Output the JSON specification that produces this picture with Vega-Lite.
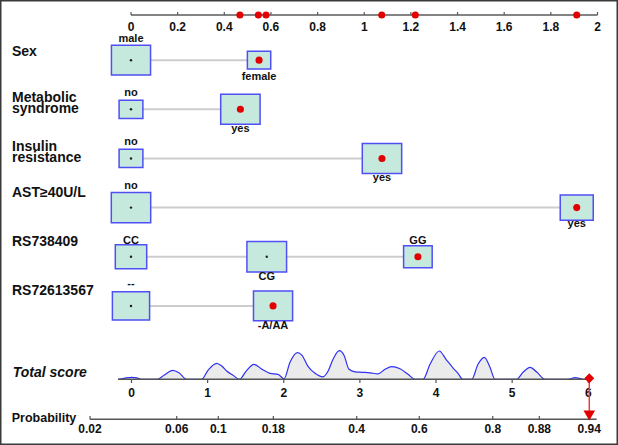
{
  "$schema": "https://vega.github.io/schema/vega-lite/v6.json",
  "width": 618,
  "height": 445,
  "autosize": {"type": "fit", "contains": "padding"},
  "padding": 0,
  "background": "white",
  "config": {
    "view": {"stroke": "#3a3a3a", "strokeWidth": 3},
    "text": {"font": "Liberation Sans", "fontWeight": "bold", "color": "#111111"}
  },
  "datasets": {
    "topticks": [
      {"pts": 0, "lab": "0"}, {"pts": 0.2, "lab": "0.2"}, {"pts": 0.4, "lab": "0.4"},
      {"pts": 0.6, "lab": "0.6"}, {"pts": 0.8, "lab": "0.8"}, {"pts": 1, "lab": "1"},
      {"pts": 1.2, "lab": "1.2"}, {"pts": 1.4, "lab": "1.4"}, {"pts": 1.6, "lab": "1.6"},
      {"pts": 1.8, "lab": "1.8"}, {"pts": 2, "lab": "2"}
    ],
    "topdots": [
      {"pts": 0.467}, {"pts": 0.546}, {"pts": 0.579}, {"pts": 1.075}, {"pts": 1.219}, {"pts": 1.911}
    ],
    "boxes": [
      {"row": 1, "level": "male", "pts": 0, "freq": 0.73, "sel": false, "pos": "above"},
      {"row": 1, "level": "female", "pts": 0.549, "freq": 0.26, "sel": true, "pos": "below"},
      {"row": 2, "level": "no", "pts": 0, "freq": 0.27, "sel": false, "pos": "above"},
      {"row": 2, "level": "yes", "pts": 0.469, "freq": 0.74, "sel": true, "pos": "below"},
      {"row": 3, "level": "no", "pts": 0, "freq": 0.27, "sel": false, "pos": "above"},
      {"row": 3, "level": "yes", "pts": 1.076, "freq": 0.74, "sel": true, "pos": "below"},
      {"row": 4, "level": "no", "pts": 0, "freq": 0.74, "sel": false, "pos": "above"},
      {"row": 4, "level": "yes", "pts": 1.911, "freq": 0.52, "sel": true, "pos": "below"},
      {"row": 5, "level": "CC", "pts": 0, "freq": 0.47, "sel": false, "pos": "above"},
      {"row": 5, "level": "CG", "pts": 0.582, "freq": 0.75, "sel": false, "pos": "below"},
      {"row": 5, "level": "GG", "pts": 1.23, "freq": 0.39, "sel": true, "pos": "above"},
      {"row": 6, "level": "--", "pts": 0, "freq": 0.66, "sel": false, "pos": "above"},
      {"row": 6, "level": "-A/AA", "pts": 0.609, "freq": 0.73, "sel": true, "pos": "below"}
    ],
    "rownames": [
      {"row": 1, "name": "Sex"},
      {"row": 2, "name": "Metabolic\nsyndrome"},
      {"row": 3, "name": "Insulin\nresistance"},
      {"row": 4, "name": "AST≥40U/L"},
      {"row": 5, "name": "RS738409"},
      {"row": 6, "name": "RS72613567"}
    ],
    "scoreticks": [
      {"score": 0}, {"score": 1}, {"score": 2}, {"score": 3}, {"score": 4}, {"score": 5}, {"score": 6}
    ],
    "prob": [
      {"p": "0.02", "score": -0.545}, {"p": "0.06", "score": 0.594}, {"p": "0.1", "score": 1.14},
      {"p": "0.18", "score": 1.863}, {"p": "0.4", "score": 2.958}, {"p": "0.6", "score": 3.78},
      {"p": "0.8", "score": 4.745}, {"p": "0.88", "score": 5.357}, {"p": "0.94", "score": 6.013}
    ],
    "patient": [{"score": 6.013}],
    "density": [
      {"score": -0.1773, "dens": 0}, {"score": -0.0985, "dens": 0.1}, {"score": 0.0026, "dens": 0.2},
      {"score": 0.0722, "dens": 0.15}, {"score": 0.1248, "dens": 0}, {"score": 0.335, "dens": 0},
      {"score": 0.4269, "dens": 0.4}, {"score": 0.5412, "dens": 0.9}, {"score": 0.6239, "dens": 0.65},
      {"score": 0.7251, "dens": 0}, {"score": 0.9221, "dens": 0}, {"score": 1.0049, "dens": 0.9},
      {"score": 1.1191, "dens": 1.6}, {"score": 1.1888, "dens": 1.3}, {"score": 1.2544, "dens": 0.8},
      {"score": 1.3332, "dens": 0.4}, {"score": 1.4186, "dens": 0}, {"score": 1.504, "dens": 0.8},
      {"score": 1.6091, "dens": 1.5}, {"score": 1.7142, "dens": 1.0}, {"score": 1.8193, "dens": 0.6},
      {"score": 1.9243, "dens": 0.5}, {"score": 2.0032, "dens": 0.05}, {"score": 2.082, "dens": 1.7},
      {"score": 2.1779, "dens": 2.67}, {"score": 2.2396, "dens": 2.4}, {"score": 2.3184, "dens": 1.3},
      {"score": 2.4104, "dens": 0.6}, {"score": 2.5154, "dens": 0.25}, {"score": 2.5811, "dens": 0.8},
      {"score": 2.6468, "dens": 2.0}, {"score": 2.7296, "dens": 2.86}, {"score": 2.7913, "dens": 2.4},
      {"score": 2.857, "dens": 1.0}, {"score": 2.9358, "dens": 0.75}, {"score": 3.0277, "dens": 0.7},
      {"score": 3.1328, "dens": 0.65}, {"score": 3.2379, "dens": 0.55}, {"score": 3.3298, "dens": 1.0},
      {"score": 3.4178, "dens": 1.26}, {"score": 3.5269, "dens": 1.05}, {"score": 3.6319, "dens": 0.5},
      {"score": 3.7239, "dens": 0}, {"score": 3.829, "dens": 0}, {"score": 3.9209, "dens": 1.5},
      {"score": 4.0431, "dens": 2.83}, {"score": 4.1311, "dens": 2.0}, {"score": 4.227, "dens": 1.1},
      {"score": 4.2887, "dens": 0.6}, {"score": 4.3505, "dens": 0}, {"score": 4.4687, "dens": 0},
      {"score": 4.5514, "dens": 1.5}, {"score": 4.6342, "dens": 2.2}, {"score": 4.7091, "dens": 1.2},
      {"score": 4.7747, "dens": 0}, {"score": 5.0598, "dens": 0}, {"score": 5.1425, "dens": 0.7},
      {"score": 5.2345, "dens": 1.2}, {"score": 5.3264, "dens": 0.7}, {"score": 5.4315, "dens": 0},
      {"score": 5.7336, "dens": 0}, {"score": 5.8256, "dens": 0.16}, {"score": 5.9307, "dens": 0}
    ],
    "titles": [{"label": "Total score"}],
    "titles2": [{"label": "Probability"}]
  },
  "resolve": {"scale": {"x": "independent", "y": "independent"}},
  "layer": [
    {
      "layer": [
        {
          "data": {"values": [{"axis": "points"}]},
          "mark": {"type": "rule", "color": "#5a5a5a", "strokeWidth": 1.3},
          "encoding": {
            "x": {"datum": 0, "type": "quantitative", "scale": {"domain": [-0.5616, 2.0879], "nice": false, "zero": false}, "axis": null},
            "x2": {"datum": 2},
            "y": {"datum": 0.0814, "type": "quantitative", "scale": {"domain": [-0.2238, 8.83], "nice": false, "zero": false, "reverse": true}, "axis": null}
          }
        },
        {
          "data": {"name": "topticks"},
          "mark": {"type": "rule", "color": "#5a5a5a", "strokeWidth": 1.2},
          "encoding": {
            "x": {"field": "pts", "type": "quantitative", "scale": {"domain": [-0.5616, 2.0879], "nice": false, "zero": false}, "axis": null},
            "y": {"datum": 0.0203, "type": "quantitative", "scale": {"domain": [-0.2238, 8.83], "nice": false, "zero": false, "reverse": true}, "axis": null},
            "y2": {"datum": 0.0814}
          }
        },
        {
          "data": {"name": "topticks"},
          "mark": {"type": "text", "fontSize": 12, "baseline": "middle", "align": "center"},
          "encoding": {
            "x": {"field": "pts", "type": "quantitative", "scale": {"domain": [-0.5616, 2.0879], "nice": false, "zero": false}, "axis": null},
            "y": {"datum": 0.3194, "type": "quantitative", "scale": {"domain": [-0.2238, 8.83], "nice": false, "zero": false, "reverse": true}, "axis": null},
            "text": {"field": "lab"}
          }
        },
        {
          "data": {"name": "topdots"},
          "mark": {"type": "point", "shape": "circle", "filled": true, "color": "#e20000", "opacity": 1, "size": 50},
          "encoding": {
            "x": {"field": "pts", "type": "quantitative", "scale": {"domain": [-0.5616, 2.0879], "nice": false, "zero": false}, "axis": null},
            "y": {"datum": 0.0814, "type": "quantitative", "scale": {"domain": [-0.2238, 8.83], "nice": false, "zero": false, "reverse": true}, "axis": null}
          }
        },
        {
          "data": {"name": "boxes"},
          "transform": [
            {"aggregate": [{"op": "min", "field": "pts", "as": "lo"}, {"op": "max", "field": "pts", "as": "hi"}], "groupby": ["row"]}
          ],
          "mark": {"type": "rule", "color": "#cdcdcd", "strokeWidth": 2},
          "encoding": {
            "x": {"field": "lo", "type": "quantitative", "scale": {"domain": [-0.5616, 2.0879], "nice": false, "zero": false}, "axis": null},
            "x2": {"field": "hi"},
            "y": {"field": "row", "type": "quantitative", "scale": {"domain": [-0.2238, 8.83], "nice": false, "zero": false, "reverse": true}, "axis": null}
          }
        },
        {
          "data": {"name": "boxes"},
          "mark": {"type": "point", "shape": "M-1.1446,-0.8737H1.1446V0.8737H-1.1446Z", "filled": true, "fill": "#c6e9de", "stroke": "#4f4ff5", "strokeWidth": 1.5, "opacity": 1},
          "encoding": {
            "x": {"field": "pts", "type": "quantitative", "scale": {"domain": [-0.5616, 2.0879], "nice": false, "zero": false}, "axis": null},
            "y": {"field": "row", "type": "quantitative", "scale": {"domain": [-0.2238, 8.83], "nice": false, "zero": false, "reverse": true}, "axis": null},
            "size": {"field": "freq", "type": "quantitative", "scale": {"type": "linear", "domain": [0, 1], "range": [0, 1600], "zero": true}, "legend": null}
          }
        },
        {
          "data": {"name": "boxes"},
          "transform": [{"filter": {"field": "sel", "equal": false}}],
          "mark": {"type": "point", "shape": "circle", "filled": true, "color": "#222222", "opacity": 1, "size": 6},
          "encoding": {
            "x": {"field": "pts", "type": "quantitative", "scale": {"domain": [-0.5616, 2.0879], "nice": false, "zero": false}, "axis": null},
            "y": {"field": "row", "type": "quantitative", "scale": {"domain": [-0.2238, 8.83], "nice": false, "zero": false, "reverse": true}, "axis": null}
          }
        },
        {
          "data": {"name": "boxes"},
          "transform": [{"filter": {"field": "sel", "equal": true}}],
          "mark": {"type": "point", "shape": "circle", "filled": true, "color": "#e20000", "opacity": 1, "size": 50},
          "encoding": {
            "x": {"field": "pts", "type": "quantitative", "scale": {"domain": [-0.5616, 2.0879], "nice": false, "zero": false}, "axis": null},
            "y": {"field": "row", "type": "quantitative", "scale": {"domain": [-0.2238, 8.83], "nice": false, "zero": false, "reverse": true}, "axis": null}
          }
        },
        {
          "data": {"name": "boxes"},
          "transform": [{"filter": {"and": [{"field": "pos", "equal": "above"}, {"field": "freq", "gt": 0.6}]}}],
          "mark": {"type": "text", "fontSize": 11, "baseline": "middle", "align": "center", "dy": -21.5},
          "encoding": {
            "x": {"field": "pts", "type": "quantitative", "scale": {"domain": [-0.5616, 2.0879], "nice": false, "zero": false}, "axis": null},
            "y": {"field": "row", "type": "quantitative", "scale": {"domain": [-0.2238, 8.83], "nice": false, "zero": false, "reverse": true}, "axis": null},
            "text": {"field": "level"}
          }
        },
        {
          "data": {"name": "boxes"},
          "transform": [{"filter": {"and": [{"field": "pos", "equal": "above"}, {"field": "freq", "lte": 0.6}]}}],
          "mark": {"type": "text", "fontSize": 11, "baseline": "middle", "align": "center", "dy": -16},
          "encoding": {
            "x": {"field": "pts", "type": "quantitative", "scale": {"domain": [-0.5616, 2.0879], "nice": false, "zero": false}, "axis": null},
            "y": {"field": "row", "type": "quantitative", "scale": {"domain": [-0.2238, 8.83], "nice": false, "zero": false, "reverse": true}, "axis": null},
            "text": {"field": "level"}
          }
        },
        {
          "data": {"name": "boxes"},
          "transform": [{"filter": {"and": [{"field": "pos", "equal": "below"}, {"field": "freq", "gt": 0.6}]}}],
          "mark": {"type": "text", "fontSize": 11, "baseline": "middle", "align": "center", "dy": 19.9},
          "encoding": {
            "x": {"field": "pts", "type": "quantitative", "scale": {"domain": [-0.5616, 2.0879], "nice": false, "zero": false}, "axis": null},
            "y": {"field": "row", "type": "quantitative", "scale": {"domain": [-0.2238, 8.83], "nice": false, "zero": false, "reverse": true}, "axis": null},
            "text": {"field": "level"}
          }
        },
        {
          "data": {"name": "boxes"},
          "transform": [{"filter": {"and": [{"field": "pos", "equal": "below"}, {"field": "freq", "lte": 0.6}]}}],
          "mark": {"type": "text", "fontSize": 11, "baseline": "middle", "align": "center", "dy": 16.4},
          "encoding": {
            "x": {"field": "pts", "type": "quantitative", "scale": {"domain": [-0.5616, 2.0879], "nice": false, "zero": false}, "axis": null},
            "y": {"field": "row", "type": "quantitative", "scale": {"domain": [-0.2238, 8.83], "nice": false, "zero": false, "reverse": true}, "axis": null},
            "text": {"field": "level"}
          }
        },
        {
          "data": {"name": "rownames"},
          "transform": [{"filter": {"field": "row", "equal": 1}}],
          "mark": {"type": "text", "fontSize": 14, "baseline": "middle", "align": "left", "dy": -8.2},
          "encoding": {
            "x": {"datum": -0.5102, "type": "quantitative", "scale": {"domain": [-0.5616, 2.0879], "nice": false, "zero": false}, "axis": null},
            "y": {"field": "row", "type": "quantitative", "scale": {"domain": [-0.2238, 8.83], "nice": false, "zero": false, "reverse": true}, "axis": null},
            "text": {"field": "name"}
          }
        },
        {
          "data": {"name": "rownames"},
          "transform": [{"filter": {"field": "row", "oneOf": [2, 3]}}],
          "mark": {"type": "text", "fontSize": 14, "baseline": "middle", "align": "left", "dy": -11, "lineBreak": "\n", "lineHeight": 10.6},
          "encoding": {
            "x": {"datum": -0.5102, "type": "quantitative", "scale": {"domain": [-0.5616, 2.0879], "nice": false, "zero": false}, "axis": null},
            "y": {"field": "row", "type": "quantitative", "scale": {"domain": [-0.2238, 8.83], "nice": false, "zero": false, "reverse": true}, "axis": null},
            "text": {"field": "name"}
          }
        },
        {
          "data": {"name": "rownames"},
          "transform": [{"filter": {"field": "row", "oneOf": [4, 5, 6]}}],
          "mark": {"type": "text", "fontSize": 14, "baseline": "middle", "align": "left", "dy": -14.7},
          "encoding": {
            "x": {"datum": -0.5102, "type": "quantitative", "scale": {"domain": [-0.5616, 2.0879], "nice": false, "zero": false}, "axis": null},
            "y": {"field": "row", "type": "quantitative", "scale": {"domain": [-0.2238, 8.83], "nice": false, "zero": false, "reverse": true}, "axis": null},
            "text": {"field": "name"}
          }
        }
      ]
    },
    {
      "data": {"name": "density"},
      "mark": {"type": "area", "interpolate": "monotone", "color": "#ebebeb", "opacity": 1, "line": {"color": "#3030f5", "strokeWidth": 1.2}},
      "encoding": {
        "x": {"field": "score", "type": "quantitative", "scale": {"domain": [-1.7273, 6.3902], "nice": false, "zero": false}, "axis": null},
        "y": {"field": "dens", "type": "quantitative", "scale": {"domain": [-6.57, 37.93], "nice": false, "zero": false}, "axis": null},
        "y2": {"datum": 0}
      }
    },
    {
      "layer": [
        {
          "data": {"values": [{"axis": "total"}]},
          "mark": {"type": "rule", "color": "#555555", "strokeWidth": 1.4},
          "encoding": {
            "x": {"datum": -0.1773, "type": "quantitative", "scale": {"domain": [-1.7273, 6.3902], "nice": false, "zero": false}, "axis": null},
            "x2": {"datum": 6.013},
            "y": {"datum": 7.493, "type": "quantitative", "scale": {"domain": [-0.2238, 8.83], "nice": false, "zero": false, "reverse": true}, "axis": null}
          }
        },
        {
          "data": {"name": "scoreticks"},
          "mark": {"type": "rule", "color": "#555555", "strokeWidth": 1.2},
          "encoding": {
            "x": {"field": "score", "type": "quantitative", "scale": {"domain": [-1.7273, 6.3902], "nice": false, "zero": false}, "axis": null},
            "y": {"datum": 7.493, "type": "quantitative", "scale": {"domain": [-0.2238, 8.83], "nice": false, "zero": false, "reverse": true}, "axis": null},
            "y2": {"datum": 7.569}
          }
        },
        {
          "data": {"name": "scoreticks"},
          "mark": {"type": "text", "fontSize": 12, "baseline": "middle", "align": "center"},
          "encoding": {
            "x": {"field": "score", "type": "quantitative", "scale": {"domain": [-1.7273, 6.3902], "nice": false, "zero": false}, "axis": null},
            "y": {"datum": 7.778, "type": "quantitative", "scale": {"domain": [-0.2238, 8.83], "nice": false, "zero": false, "reverse": true}, "axis": null},
            "text": {"field": "score", "type": "quantitative", "format": "d"}
          }
        },
        {
          "data": {"values": [{"axis": "prob"}]},
          "mark": {"type": "rule", "color": "#555555", "strokeWidth": 1.4},
          "encoding": {
            "x": {"datum": -0.545, "type": "quantitative", "scale": {"domain": [-1.7273, 6.3902], "nice": false, "zero": false}, "axis": null},
            "x2": {"datum": 6.11},
            "y": {"datum": 8.307, "type": "quantitative", "scale": {"domain": [-0.2238, 8.83], "nice": false, "zero": false, "reverse": true}, "axis": null}
          }
        },
        {
          "data": {"name": "prob"},
          "mark": {"type": "rule", "color": "#555555", "strokeWidth": 1.2},
          "encoding": {
            "x": {"field": "score", "type": "quantitative", "scale": {"domain": [-1.7273, 6.3902], "nice": false, "zero": false}, "axis": null},
            "y": {"datum": 8.24, "type": "quantitative", "scale": {"domain": [-0.2238, 8.83], "nice": false, "zero": false, "reverse": true}, "axis": null},
            "y2": {"datum": 8.307}
          }
        },
        {
          "data": {"name": "prob"},
          "mark": {"type": "text", "fontSize": 12, "baseline": "middle", "align": "center"},
          "encoding": {
            "x": {"field": "score", "type": "quantitative", "scale": {"domain": [-1.7273, 6.3902], "nice": false, "zero": false}, "axis": null},
            "y": {"datum": 8.509, "type": "quantitative", "scale": {"domain": [-0.2238, 8.83], "nice": false, "zero": false, "reverse": true}, "axis": null},
            "text": {"field": "p"}
          }
        },
        {
          "data": {"name": "patient"},
          "mark": {"type": "rule", "color": "#ee3b3b", "strokeWidth": 1.5},
          "encoding": {
            "x": {"field": "score", "type": "quantitative", "scale": {"domain": [-1.7273, 6.3902], "nice": false, "zero": false}, "axis": null},
            "y": {"datum": 7.473, "type": "quantitative", "scale": {"domain": [-0.2238, 8.83], "nice": false, "zero": false, "reverse": true}, "axis": null},
            "y2": {"datum": 8.159}
          }
        },
        {
          "data": {"name": "patient"},
          "mark": {"type": "point", "shape": "diamond", "filled": true, "color": "#e20000", "opacity": 1, "size": 100},
          "encoding": {
            "x": {"field": "score", "type": "quantitative", "scale": {"domain": [-1.7273, 6.3902], "nice": false, "zero": false}, "axis": null},
            "y": {"datum": 7.473, "type": "quantitative", "scale": {"domain": [-0.2238, 8.83], "nice": false, "zero": false, "reverse": true}, "axis": null}
          }
        },
        {
          "data": {"name": "patient"},
          "mark": {"type": "point", "shape": "triangle-down", "filled": true, "color": "#e20000", "opacity": 1, "size": 135},
          "encoding": {
            "x": {"field": "score", "type": "quantitative", "scale": {"domain": [-1.7273, 6.3902], "nice": false, "zero": false}, "axis": null},
            "y": {"datum": 8.23, "type": "quantitative", "scale": {"domain": [-0.2238, 8.83], "nice": false, "zero": false, "reverse": true}, "axis": null}
          }
        },
        {
          "data": {"name": "titles"},
          "mark": {"type": "text", "fontSize": 14, "fontStyle": "italic", "baseline": "middle", "align": "left"},
          "encoding": {
            "x": {"datum": -1.5605, "type": "quantitative", "scale": {"domain": [-1.7273, 6.3902], "nice": false, "zero": false}, "axis": null},
            "y": {"datum": 7.371, "type": "quantitative", "scale": {"domain": [-0.2238, 8.83], "nice": false, "zero": false, "reverse": true}, "axis": null},
            "text": {"field": "label"}
          }
        },
        {
          "data": {"name": "titles2"},
          "mark": {"type": "text", "fontSize": 12.5, "baseline": "middle", "align": "left"},
          "encoding": {
            "x": {"datum": -1.5736, "type": "quantitative", "scale": {"domain": [-1.7273, 6.3902], "nice": false, "zero": false}, "axis": null},
            "y": {"datum": 8.287, "type": "quantitative", "scale": {"domain": [-0.2238, 8.83], "nice": false, "zero": false, "reverse": true}, "axis": null},
            "text": {"field": "label"}
          }
        }
      ]
    }
  ]
}
